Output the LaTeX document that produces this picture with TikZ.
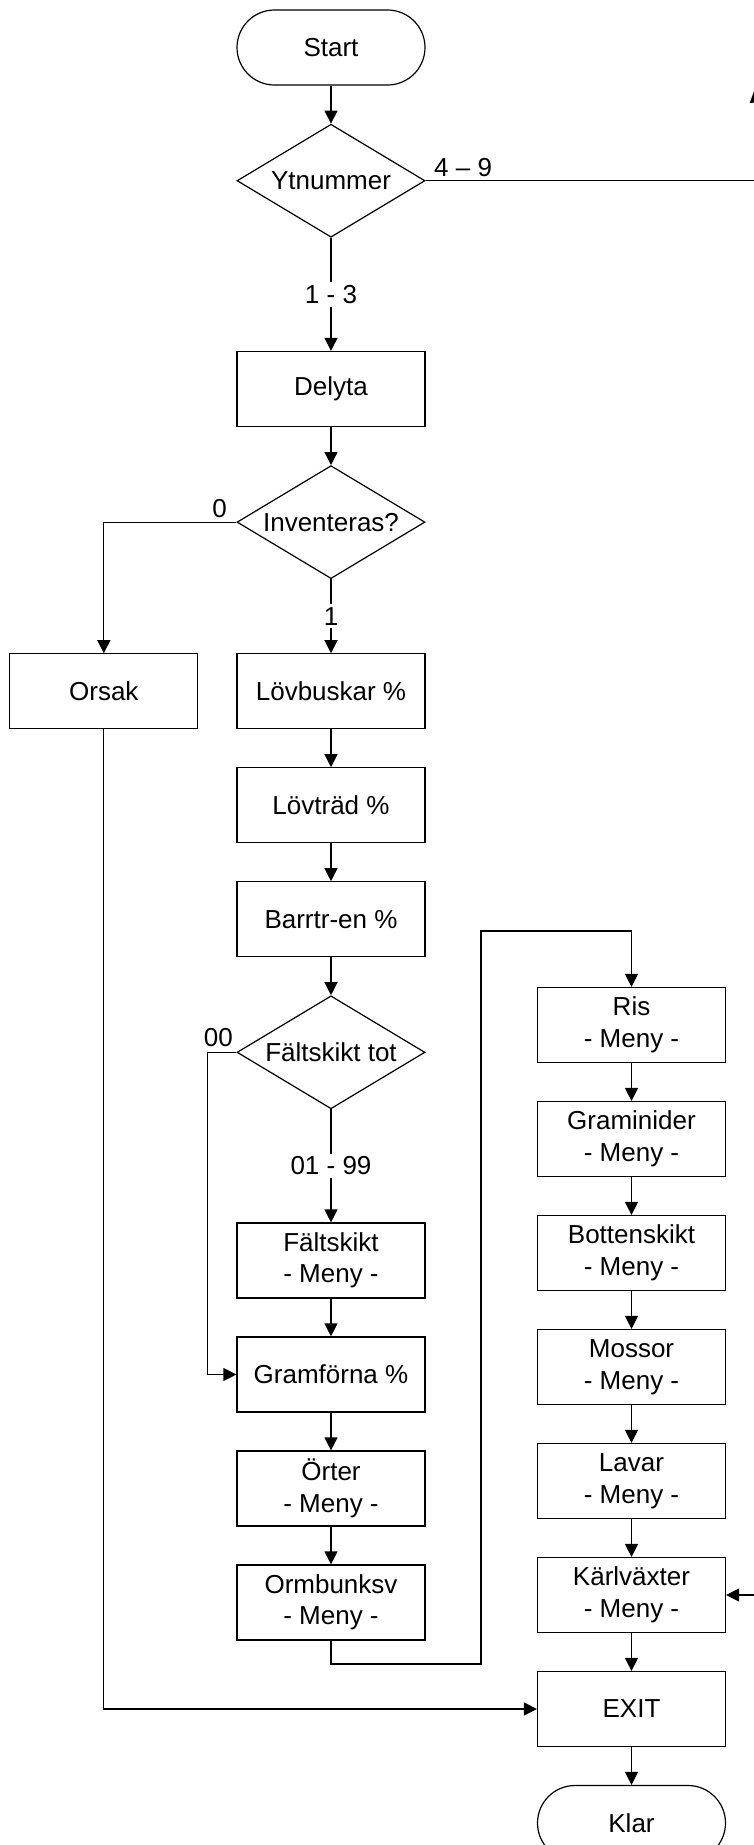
\documentclass[tikz,border=0pt]{standalone}
\usepackage{fontspec}
\setmainfont{Liberation Sans}
\usetikzlibrary{shapes.geometric, arrows.meta, positioning, calc}

\begin{document}
\begin{tikzpicture}[
    x=1pt, y=-1pt,
    font=\fontsize{26}{31.5}\selectfont,
    node distance=37.8pt,
    box/.style={draw, minimum width=188pt, minimum height=75pt, align=center,
                inner sep=0pt, line width=1.2pt},
    term/.style={box, rounded corners=37.5pt},
    choice/.style={draw, diamond, aspect=1.66, minimum width=188pt,
                   minimum height=113pt, inner sep=0pt, line width=1.2pt},
    lbl/.style={fill=white, inner sep=3pt},
    line/.style={line width=1.2pt},
    arrow/.style={-{Triangle[length=13pt, width=13pt]}, line width=1.2pt}
]
    \useasboundingbox (0,0) rectangle (754,1845);

    \node[term] (start) at (331,47.5) {Start};
    \node[choice, below=38pt of start] (ytnummer) {Ytnummer};
    \node[box, below=113pt of ytnummer] (delyta) {Delyta};
    \node[choice, below=38pt of delyta] (inventeras) {Inventeras?};
    \node[box, below=74pt of inventeras] (lovbuskar) {Lövbuskar \%};
    \node[box, left=38pt of lovbuskar] (orsak) {Orsak};
    \node[box, below=of lovbuskar] (lovtrad) {Lövträd \%};
    \node[box, below=of lovtrad] (barrtr) {Barrtr-en \%};
    \node[choice, below=of barrtr] (falttot) {Fältskikt tot};
    \node[box, below=113pt of falttot] (faltmeny) {Fältskikt\\- Meny -};
    \node[box, below=of faltmeny] (gramforna) {Gramförna \%};
    \node[box, below=of gramforna] (orter) {Örter\\- Meny -};
    \node[box, below=of orter] (ormbunksv) {Ormbunksv\\- Meny -};

    \node[box] (ris) at (631.5,1025) {Ris\\- Meny -};
    \node[box, below=of ris] (graminider) {Graminider\\- Meny -};
    \node[box, below=of graminider] (bottenskikt) {Bottenskikt\\- Meny -};
    \node[box, below=of bottenskikt] (mossor) {Mossor\\- Meny -};
    \node[box, below=of mossor] (lavar) {Lavar\\- Meny -};
    \node[box, below=of lavar] (karlvaxter) {Kärlväxter\\- Meny -};
    \node[box, below=of karlvaxter] (exit) {EXIT};
    \node[term, below=of exit] (klar) {Klar};

    \node[anchor=base west, inner sep=0pt, font=\fontsize{26}{31.5}\selectfont\bfseries] (pagea) at (749,103) {A};

    \coordinate (ytnend) at ($(ytnummer.east)+(340,0)$);
    \coordinate (karlin) at ($(karlvaxter.east)+(40,0)$);
    \coordinate (faltloop) at ($(falttot.west)+(-29,0)$);
    \coordinate (loopbot) at (481,1664);
    \coordinate (looptop) at (481,931);

    \draw[arrow] (start) -- (ytnummer);
    \draw[arrow] (ytnummer) -- node[lbl] {1 - 3} (delyta);
    \draw[line] (ytnummer.east) -- node[pos=0, anchor=base west, inner sep=0pt, xshift=8pt, yshift=4pt] {4 -- 9} (ytnend);
    \draw[arrow] (delyta) -- (inventeras);
    \draw[arrow] (inventeras.west) -| node[pos=0, anchor=base east, inner sep=0pt, xshift=-9pt, yshift=5pt] {0} (orsak.north);
    \draw[arrow] (inventeras) -- node[lbl] {1} (lovbuskar);
    \draw[arrow] (lovbuskar) -- (lovtrad);
    \draw[arrow] (lovtrad) -- (barrtr);
    \draw[arrow] (barrtr) -- (falttot);
    \draw[arrow] (falttot) -- node[lbl] {01 - 99} (faltmeny);
    \draw[arrow] (falttot.west) -- node[pos=0, anchor=base east, inner sep=0pt, xshift=-3pt, yshift=6pt] {00} (faltloop) |- (gramforna.west);
    \draw[arrow] (faltmeny) -- (gramforna);
    \draw[arrow] (gramforna) -- (orter);
    \draw[arrow] (orter) -- (ormbunksv);
    \draw[arrow] (ormbunksv.south) |- (loopbot) -- (looptop) -| (ris.north);
    \draw[arrow] (ris) -- (graminider);
    \draw[arrow] (graminider) -- (bottenskikt);
    \draw[arrow] (bottenskikt) -- (mossor);
    \draw[arrow] (mossor) -- (lavar);
    \draw[arrow] (lavar) -- (karlvaxter);
    \draw[arrow] (karlvaxter) -- (exit);
    \draw[arrow] (karlin) -- (karlvaxter.east);
    \draw[arrow] (orsak.south) |- (exit.west);
    \draw[arrow] (exit) -- (klar);
\end{tikzpicture}
\end{document}
